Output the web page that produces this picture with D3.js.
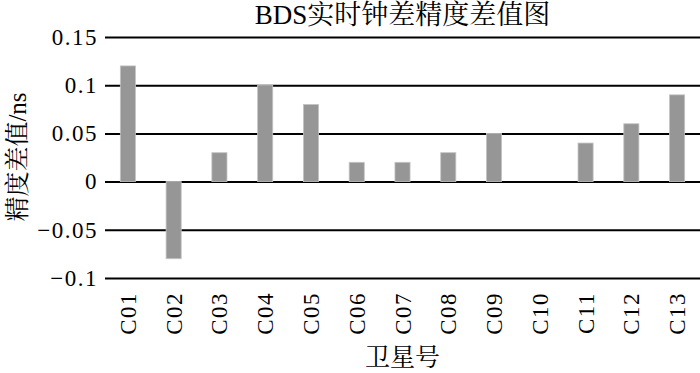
<!DOCTYPE html>
<html>
<head>
<meta charset="utf-8">
<script src="https://cdn.jsdelivr.net/npm/d3@7"></script>
<style>
  html, body { margin: 0; padding: 0; background: #fff; }
</style>
</head>
<body>
<div id="chart"></div>
<script>
const satellites = ['C01', 'C02', 'C03', 'C04', 'C05', 'C06', 'C07', 'C08', 'C09', 'C10', 'C11', 'C12', 'C13'];
const diffValues = [0.12, -0.08, 0.03, 0.10, 0.08, 0.02, 0.02, 0.03, 0.05, 0, 0.04, 0.06, 0.09];
const yTicks = [-0.1, -0.05, 0, 0.05, 0.1, 0.15];
const yTickLabels = ['\u22120.1', '\u22120.05', '0', '0.05', '0.1', '0.15'];

const titleText = 'BDS实时钟差精度差值图';
const xTitle = '卫星号';
const yTitle = '精度差值/ns';

const FONT = '"Liberation Serif", "Times New Roman", "Noto Serif CJK SC", "Noto Sans CJK SC", serif';
const BAR_FILL = '#969696';

const w = 700;
const h = 373;
const margin = { top: 37, right: 0, bottom: 95, left: 105 };
const innerW = w - margin.left - margin.right;
const innerH = h - margin.top - margin.bottom;

const data = satellites.map((s, i) => ({ sat: s, value: diffValues[i] }));

const svg = d3
  .select('#chart')
  .append('svg')
  .attr('width', w)
  .attr('height', h);

const chart = svg.append('g').attr('transform', `translate(${margin.left},${margin.top})`);

const x = d3
  .scaleBand()
  .domain(satellites)
  .range([0, innerW])
  .paddingInner(0.67)
  .paddingOuter(0.335);

const y = d3.scaleLinear().domain([-0.1, 0.15]).range([innerH, 0]);

// horizontal grid lines
const grid = d3
  .axisLeft(y)
  .tickValues(yTicks)
  .tickSize(-innerW)
  .tickFormat('');
chart
  .append('g')
  .attr('class', 'ygrid')
  .call(grid)
  .call((g) => g.select('.domain').remove())
  .selectAll('.tick line')
  .attr('stroke', '#000')
  .attr('stroke-width', 2);

// bars
chart
  .selectAll('rect.bar')
  .data(data)
  .join('rect')
  .attr('class', 'bar')
  .attr('x', (d) => x(d.sat))
  .attr('y', (d) => y(Math.max(0, d.value)))
  .attr('width', x.bandwidth())
  .attr('height', (d) => Math.abs(y(d.value) - y(0)))
  .attr('fill', BAR_FILL)
  .attr('stroke', '#c4c4c4')
  .attr('stroke-width', 0.8);

// y tick labels
const yLabels = d3
  .axisLeft(y)
  .tickValues(yTicks)
  .tickSize(0)
  .tickPadding(7)
  .tickFormat((v, i) => yTickLabels[i]);
chart
  .append('g')
  .attr('class', 'yaxis')
  .call(yLabels)
  .call((g) => g.select('.domain').remove())
  .selectAll('.tick text')
  .attr('fill', '#000')
  .attr('font-size', 23)
  .attr('letter-spacing', 1.5)
  .attr('font-family', FONT);

// x tick labels, rotated
const xAxis = d3.axisBottom(x).tickSize(0).tickPadding(0);
chart
  .append('g')
  .attr('class', 'xaxis')
  .attr('transform', `translate(0,${innerH})`)
  .call(xAxis)
  .call((g) => g.select('.domain').remove())
  .selectAll('.tick text')
  .attr('transform', 'rotate(-90)')
  .attr('x', -14)
  .attr('y', 0)
  .attr('dy', '0.35em')
  .attr('text-anchor', 'end')
  .attr('fill', '#000')
  .attr('font-size', 23)
  .attr('letter-spacing', 1.5)
  .attr('font-family', FONT);

// title
svg
  .append('text')
  .attr('x', margin.left + innerW / 2)
  .attr('y', 24)
  .attr('text-anchor', 'middle')
  .attr('fill', '#000')
  .attr('font-size', 27)
  .attr('font-family', FONT)
  .text(titleText);

// x axis title
svg
  .append('text')
  .attr('x', margin.left + innerW / 2)
  .attr('y', 366)
  .attr('text-anchor', 'middle')
  .attr('fill', '#000')
  .attr('font-size', 25)
  .attr('font-family', FONT)
  .text(xTitle);

// y axis title
svg
  .append('text')
  .attr('transform', 'translate(26,157) rotate(-90)')
  .attr('text-anchor', 'middle')
  .attr('fill', '#000')
  .attr('font-size', 25)
  .attr('font-family', FONT)
  .text(yTitle);
</script>
</body>
</html>
